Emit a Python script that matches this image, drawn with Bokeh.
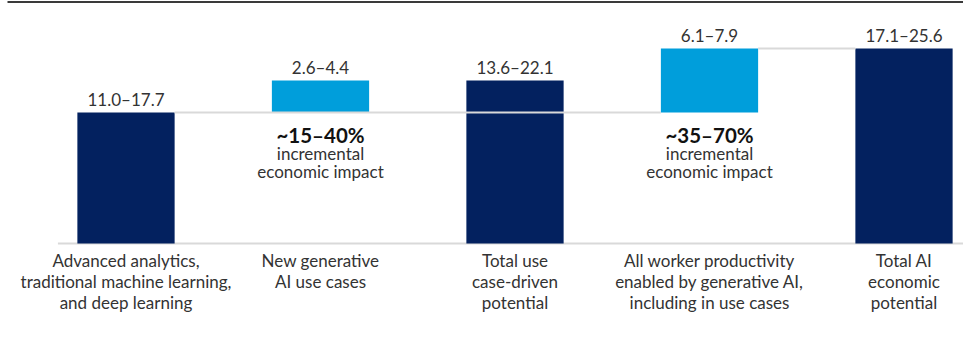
from bokeh.plotting import figure
from bokeh.models import ColumnDataSource
from bokeh.core.properties import value
from bokeh.embed import file_html
from bokeh.resources import INLINE

# ---- data ----
categories = [
    "Advanced analytics,\ntraditional machine learning,\nand deep learning",
    "New generative\nAI use cases",
    "Total use\ncase-driven\npotential",
    "All worker productivity\nenabled by generative AI,\nincluding in use cases",
    "Total AI\neconomic\npotential",
]
low = [11.0, 2.6, 13.6, 6.1, 17.1]
high = [17.7, 4.4, 22.1, 7.9, 25.6]
kinds = ["total", "increment", "total", "increment", "total"]
increment_pct = ["~15–40%", "~35–70%"]
increment_note = ["incremental", "economic impact"]

# ---- styles ----
NAVY = "#03215F"
BLUE = "#009EDB"
FONT = "Lato"
TXT = "#333333"
FS = "17px"

n = len(categories)
xs = list(range(n))
mid = [(a + b) / 2 for a, b in zip(low, high)]
base = mid[0]
bottoms = [0 if k == "total" else base for k in kinds]
tops = [m if k == "total" else base + m for k, m in zip(kinds, mid)]
colors = [NAVY if k == "total" else BLUE for k in kinds]

W, H = 963, 325
PX_X = 194.5
x_start = -125.5 / PX_X
x_end = x_start + W / PX_X
PPU = 9.13
y_start = -82 / PPU
y_end = y_start + H / PPU

p = figure(width=W, height=H, x_range=(x_start, x_end), y_range=(y_start, y_end),
           output_backend="svg", toolbar_location=None, min_border=0,
           x_axis_location=None, y_axis_location=None)
p.grid.visible = False
p.outline_line_color = None
p.background_fill_color = "white"
p.border_fill_color = "white"

# top rule
top_y = y_end - 1.5 / PPU
p.segment(x0=[x_start + 7 / PX_X], y0=[top_y], x1=[x_end], y1=[top_y], line_color="#3a3a3a", line_width=2)

# baseline
p.segment(x0=[-0.35], y0=[0], x1=[x_end], y1=[0], line_color="#d9d9d9", line_width=2)

# bars
src = ColumnDataSource(dict(x=xs, bottom=bottoms, top=tops, color=colors))
p.vbar(x="x", bottom="bottom", top="top", width=0.5, fill_color="color", line_color=None, source=src)

# connectors
inc_idx = [i for i, k in enumerate(kinds) if k == "increment"]
cx0 = [0 + 0.25, inc_idx[-1] + 0.25]
cx1 = [inc_idx[-1] - 0.25, inc_idx[-1] + 0.75]
cy = [base, tops[inc_idx[-1]]]
p.segment(x0=cx0, y0=cy, x1=cx1, y1=cy, line_color="#d9d9d9", line_width=2)

# value labels
vlabels = [f"{a:.1f}–{b:.1f}" for a, b in zip(low, high)]
p.text(x=xs, y=tops, text=vlabels, y_offset=-13, text_align="center", text_baseline="alphabetic",
       text_font=value(FONT), text_font_size=FS, text_color=TXT)

# category labels
lx, ly, lt, lo = [], [], [], []
for i, c in enumerate(categories):
    for j, line in enumerate(c.split("\n")):
        lx.append(i); ly.append(0); lt.append(line); lo.append(16.7 + 21.3 * j)
p.text(x=lx, y=ly, text=lt, y_offset=lo, text_align="center", text_baseline="alphabetic",
       text_font=value(FONT), text_font_size=FS, text_color=TXT)

# increment annotations
p.text(x=inc_idx, y=[base] * len(inc_idx), text=increment_pct, y_offset=22.5, text_align="center",
       text_baseline="alphabetic", text_font=value(FONT), text_font_style="bold",
       text_font_size="20.5px", text_color="#111111")
ax, ay, at, ao = [], [], [], []
for i in inc_idx:
    for j, line in enumerate(increment_note):
        ax.append(i); ay.append(base); at.append(line); ao.append(41 + 18 * j)
p.text(x=ax, y=ay, text=at, y_offset=ao, text_align="center", text_baseline="alphabetic",
       text_font=value(FONT), text_font_size=FS, text_color=TXT)

open("out.html", "w").write(file_html(p, INLINE))
